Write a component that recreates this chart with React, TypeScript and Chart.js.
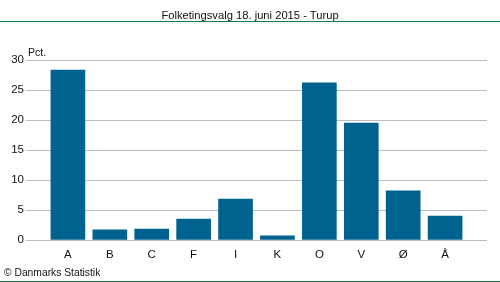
import React, { useEffect, useRef } from "react";
import { Chart, registerables } from "chart.js";

Chart.register(...registerables);

const TITLE = "Folketingsvalg 18. juni 2015 - Turup";
const UNIT = "Pct.";
const CREDIT = "© Danmarks Statistik";
const categories = ["A", "B", "C", "F", "I", "K", "O", "V", "Ø", "Å"];
const values = [28.3, 1.7, 1.8, 3.5, 6.8, 0.7, 26.2, 19.5, 8.2, 4.0];
const yTicks = [0, 5, 10, 15, 20, 25, 30];

const FONT = "'Liberation Sans', Arial, sans-serif";
const BAR = "#00628f";
const GRID = "#bcbcc6";
const GREEN = "#0f8045";

export default function App() {
  const ref = useRef<HTMLCanvasElement | null>(null);

  useEffect(() => {
    if (!ref.current) return;
    const chart = new Chart(ref.current, {
      type: "bar",
      data: {
        datasets: [
          {
            data: values.map((v, i) => ({ x: i, y: v })),
            backgroundColor: BAR,
            borderWidth: 0,
            barThickness: 34,
          },
        ],
      },
      options: {
        animation: false,
        responsive: false,
        maintainAspectRatio: false,
        layout: { padding: { left: 0, right: 13, top: 60, bottom: 0 } },
        plugins: { legend: { display: false }, tooltip: { enabled: false }, title: { display: false } },
        scales: {
          x: {
            type: "linear",
            min: -1,
            max: 10,
            offset: false,
            grid: { display: false, drawTicks: false },
            border: { display: false },
            afterBuildTicks: (scale: any) => {
              scale.ticks = categories.map((_, i) => ({ value: i }));
            },
            afterFit: (scale: any) => {
              scale.height = 42;
            },
            ticks: {
              autoSkip: false,
              maxRotation: 0,
              padding: 8,
              color: "#111",
              font: { family: FONT, size: 11.5 },
              callback: (v: any) => categories[v as number] ?? "",
            },
          },
          y: {
            min: 0,
            max: 30,
            afterBuildTicks: (scale: any) => {
              scale.ticks = yTicks.map((v) => ({ value: v }));
            },
            afterFit: (scale: any) => {
              scale.width = 26;
            },
            grid: { color: GRID, lineWidth: 1, drawTicks: false },
            border: { display: false },
            ticks: {
              padding: 2,
              color: "#111",
              font: { family: FONT, size: 11.5 },
            },
          },
        },
      },
    });
    return () => chart.destroy();
  }, []);

  const text: React.CSSProperties = {
    position: "absolute",
    fontFamily: FONT,
    color: "#111",
    whiteSpace: "nowrap",
    lineHeight: "14px",
  };

  return (
    <div style={{ position: "absolute", left: 0, top: 0, width: 500, height: 282, background: "#fff", overflow: "hidden" }}>
      <canvas ref={ref} width={500} height={282} style={{ position: "absolute", left: 0, top: 0, width: 500, height: 282 }} />
      <div style={{ ...text, left: 0, top: 8, width: 500, textAlign: "center", fontSize: 11.2 }}>{TITLE}</div>
      <div style={{ position: "absolute", left: 0, top: 21, width: 500, height: 1, background: GREEN }} />
      <div style={{ ...text, left: 28, top: 45, fontSize: 10.5 }}>{UNIT}</div>
      <div style={{ ...text, left: 4, top: 266, fontSize: 10.3 }}>{CREDIT}</div>
      <div style={{ position: "absolute", left: 0, top: 281, width: 500, height: 1, background: GREEN }} />
    </div>
  );
}
